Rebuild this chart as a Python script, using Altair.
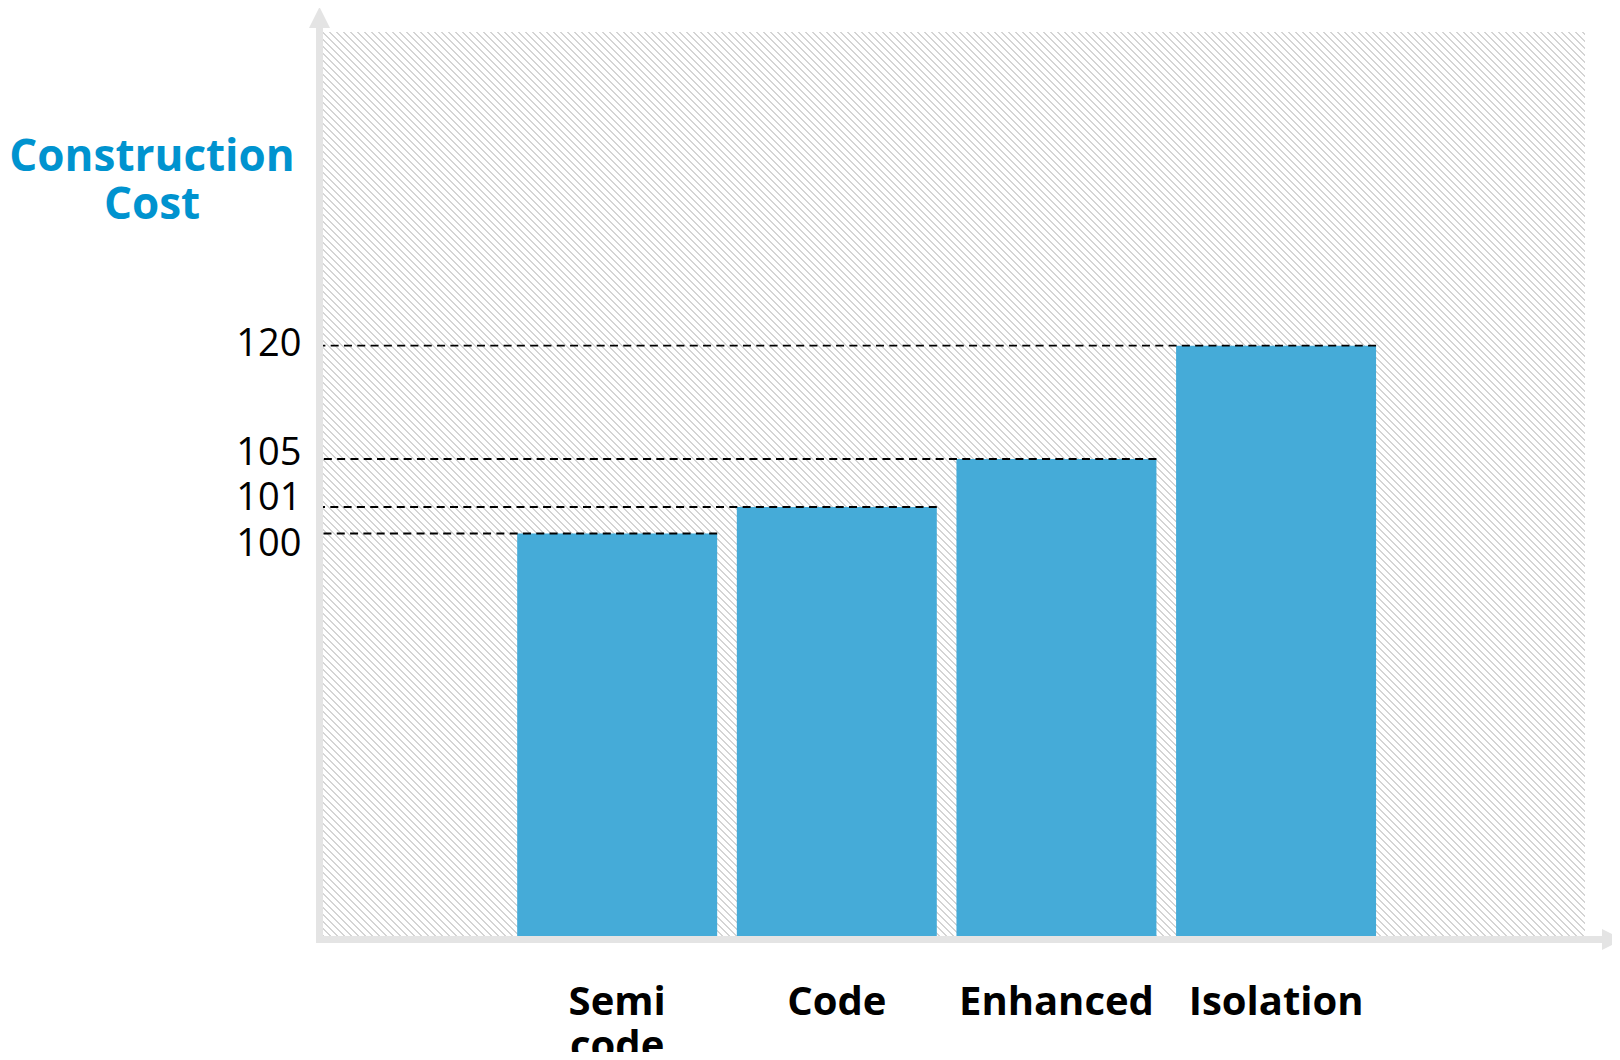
import altair as alt
import pandas as pd

# ---- data ----
categories = ["Semi code", "Code", "Enhanced", "Isolation"]
costs = [100, 101, 105, 120]
tick_values = [100, 101, 105, 120]
axis_title = ["Construction", "Cost"]

# ---- layout / style (not data) ----
W, H = 1263, 904
BAR_BLUE = "#45ABD8"
TITLE_BLUE = "#0093CF"
AXIS_GRAY = "#E4E4E4"
HATCH_GRAY = "#D4D4D4"

# schematic (piecewise) value axis, as in the original drawing
y_domain = [0, 100, 101, 105, 120, 150]
y_range = [H, 501.5, 475, 427, 313.7, 0]

df = pd.DataFrame({"category": categories, "cost": costs})
one = pd.DataFrame({"k": [0]})

# ---- diagonal hatch for the plot background, built as a striped gradient ----
# gradient parameter t = (x - y + H) / (W + H) in plot pixels (45 degree stripes)
r = H / W
s = (1 + r) / (1 + r * r)
span = W + H
step_px, width_px = 7, 2
stops = []
k = 0
while True:
    a = (k * step_px + 0.5) / span
    if a >= 1:
        break
    b = min((k * step_px + 0.5 + width_px) / span, 1.0)
    stops += [
        alt.GradientStop(color="#FFFFFF", offset=a),
        alt.GradientStop(color=HATCH_GRAY, offset=a),
        alt.GradientStop(color=HATCH_GRAY, offset=b),
        alt.GradientStop(color="#FFFFFF", offset=b),
    ]
    k += 1
hatch = alt.LinearGradient(gradient="linear", stops=stops, x1=0, y1=1, x2=s, y2=1 - s * r)

xscale = alt.Scale(domain=categories, paddingInner=0.0895, paddingOuter=0.92, align=0.483)
yscale = alt.Scale(domain=y_domain, range=y_range, zero=False, nice=False)

xaxis = alt.Axis(
    title=None, labelExpr="split(datum.label, ' ')", labelFont="Open Sans",
    labelFontSize=40, labelFontWeight="bold", labelColor="black", labelPadding=78,
    labelBaseline="alphabetic", labelLineHeight=44, labelAngle=0, labelLimit=0,
    labelOverlap=False, domain=False, ticks=False, tickSize=0, grid=False,
)
yaxis = alt.Axis(
    values=tick_values, title=axis_title, titleAngle=0, titleAlign="center",
    titleBaseline="alphabetic", titleX=-170.5, titleY=138, titleFont="Open Sans",
    titleFontSize=44, titleFontWeight="bold", titleColor=TITLE_BLUE, titleLineHeight=48,
    labelFont="Open Sans", labelFontSize=38, labelColor="black", labelPadding=21,
    labelBaseline="middle", labelOverlap=False,
    labelOffset={"condition": [
        {"test": "datum.value == 120", "value": -1},
        {"test": "datum.value == 105", "value": -6},
        {"test": "datum.value == 101", "value": -9},
        {"test": "datum.value == 100", "value": 11},
    ], "value": 0},
    domain=False, ticks=False, tickSize=0, grid=False,
)

bg = alt.Chart(one).mark_rect(fill=hatch, strokeWidth=0).encode(
    x=alt.value(0), x2=alt.value(W), y=alt.value(0), y2=alt.value(H)
)

bars = alt.Chart(df).mark_bar(color=BAR_BLUE).encode(
    x=alt.X("category:N", sort=categories, scale=xscale, axis=xaxis),
    y=alt.Y("cost:Q", scale=yscale, axis=yaxis),
    y2=alt.datum(0),
)

rules = alt.Chart(df).mark_rule(color="black", strokeDash=[8, 5.3], strokeWidth=1.8).encode(
    x=alt.X("category:N", sort=categories, scale=xscale, axis=xaxis, bandPosition=1),
    x2=alt.value(-2),
    y=alt.Y("cost:Q", scale=yscale, axis=yaxis),
)

yline = alt.Chart(one).mark_rule(color=AXIS_GRAY, strokeWidth=7).encode(
    x=alt.value(-2.5), y=alt.value(-5), y2=alt.value(911)
)
xline = alt.Chart(one).mark_rule(color=AXIS_GRAY, strokeWidth=7).encode(
    y=alt.value(907.5), x=alt.value(-6), x2=alt.value(1286)
)
yarrow = alt.Chart(one).mark_point(
    shape="M-1,1L0,-1L1,1Z", filled=True, size=441, color=AXIS_GRAY, opacity=1, strokeWidth=0
).encode(x=alt.value(-2.5), y=alt.value(-14.5))
xarrow = alt.Chart(one).mark_point(
    shape="M-1,-1L1,0L-1,1Z", filled=True, size=441, color=AXIS_GRAY, opacity=1, strokeWidth=0
).encode(x=alt.value(1290.5), y=alt.value(907.5))

chart = alt.layer(bg, bars, rules, yline, xline, yarrow, xarrow).properties(
    width=W, height=H,
    autosize=alt.AutoSizeParams(type="none"),
    padding={"left": 314, "top": 24, "right": 27, "bottom": 116},
    background="white",
).configure_view(strokeWidth=0)

chart.save("out.html", embed_options={"renderer": "svg", "actions": False})
